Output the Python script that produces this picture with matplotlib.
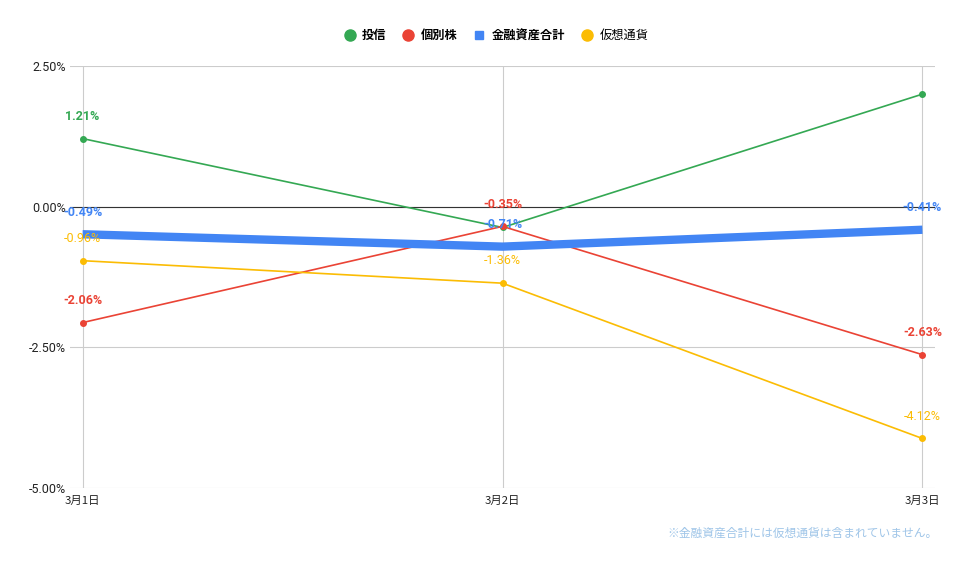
import matplotlib

matplotlib.use("Agg")
import matplotlib.pyplot as plt
from matplotlib.lines import Line2D
from matplotlib.ticker import FuncFormatter

plt.rcParams["font.family"] = ["Roboto", "Noto Sans CJK JP", "DejaVu Sans"]

dates = ["3月1日", "3月2日", "3月3日"]
toushin = [1.21, -0.37, 2.00]
kobetsu = [-2.06, -0.35, -2.63]
kinyu_total = [-0.49, -0.71, -0.41]
kasou = [-0.96, -1.36, -4.12]

# which points get a value label (series name -> indices)
label_idx = {
    "投信": [0],
    "個別株": [0, 1, 2],
    "金融資産合計": [0, 1, 2],
    "仮想通貨": [0, 1, 2],
}

GREEN, RED, BLUE, YELLOW = "#34a853", "#ea4335", "#4285f4", "#fbbc04"

fig = plt.figure(figsize=(9.6, 5.69), dpi=100)
ax = fig.add_axes([70 / 960, 81 / 569, 865 / 960, 422 / 569])

x = list(range(len(dates)))
series = [
    ("投信", toushin, GREEN, 1.2, "o", "bold"),
    ("個別株", kobetsu, RED, 1.2, "o", "bold"),
    ("仮想通貨", kasou, YELLOW, 1.2, "o", "normal"),
    ("金融資産合計", kinyu_total, BLUE, 6.0, None, "bold"),
]

for name, vals, col, lw, mk, weight in series:
    ax.plot(x, vals, color=col, linewidth=lw, marker=mk, markersize=4,
            solid_capstyle="butt", zorder=4 if mk is None else 3)

for name, vals, col, lw, mk, weight in series:
    for i in label_idx[name]:
        ax.annotate(f"{vals[i]:.2f}%", (x[i], vals[i]), xytext=(0, 16),
                    textcoords="offset points", ha="center", va="center",
                    fontsize=9, color=col, fontweight=weight, zorder=6)

ax.set_xlim(-0.03, 2.03)
ax.set_ylim(-5, 2.5)
ax.set_yticks([2.5, 0, -2.5, -5])
ax.yaxis.set_major_formatter(FuncFormatter(lambda v, p: f"{v:.2f}%"))
ax.set_xticks(x)
ax.set_xticklabels(dates)
ax.grid(True, color="#cccccc", linewidth=0.8)
ax.axhline(0, color="#333333", linewidth=0.8, zorder=2)
ax.set_axisbelow(True)
for s in ax.spines.values():
    s.set_visible(False)
ax.tick_params(axis="y", length=0, labelsize=9, colors="#222222", pad=3)
ax.tick_params(axis="x", length=0, labelsize=8.2, colors="#222222", pad=6)
for t in ax.get_xticklabels():
    t.set_fontfamily(["Noto Sans CJK JP", "DejaVu Sans"])

handles = [
    Line2D([], [], color=GREEN, marker="o", linestyle="", markersize=8),
    Line2D([], [], color=RED, marker="o", linestyle="", markersize=8),
    Line2D([], [], color=BLUE, marker="s", linestyle="", markersize=6),
    Line2D([], [], color=YELLOW, marker="o", linestyle="", markersize=8),
]
names = ["投信", "個別株", "金融資産合計", "仮想通貨"]
leg = fig.legend(handles, names, loc="center", bbox_to_anchor=(0.516, 0.937),
                 ncol=4, frameon=False, handlelength=1.2, handletextpad=0.4,
                 columnspacing=1.2,
                 prop={"family": ["Noto Sans CJK JP", "DejaVu Sans"], "size": 8.8})
for t, w in zip(leg.get_texts(), ["bold", "bold", "bold", "normal"]):
    t.set_fontweight(w)

fig.text(938 / 960, 1 - 533 / 569, "※金融資産合計には仮想通貨は含まれていません。",
         ha="right", va="center", fontsize=8.5, color="#9fc5e8",
         family=["Noto Sans CJK JP", "DejaVu Sans"])

fig.savefig("out.png", dpi=100, facecolor="white")
